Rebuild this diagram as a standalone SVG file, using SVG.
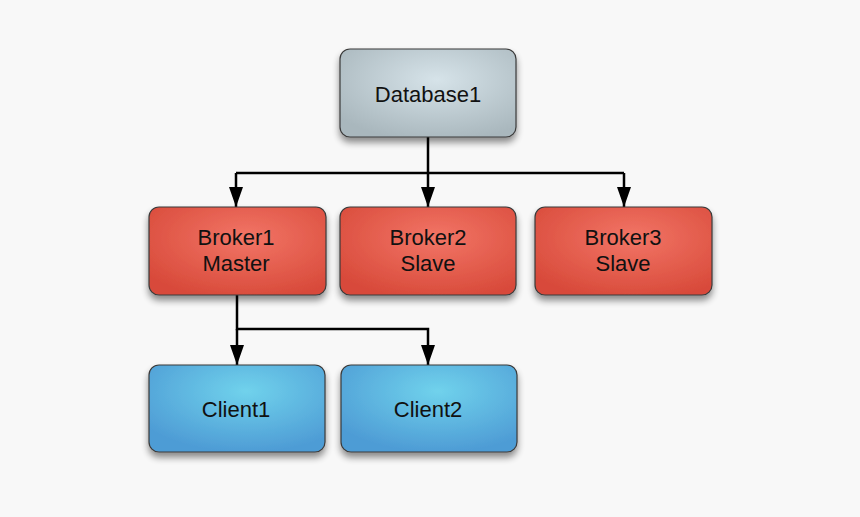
<svg xmlns="http://www.w3.org/2000/svg" width="860" height="517" viewBox="0 0 860 517">
<defs>
<radialGradient id="gDb" cx="0.55" cy="0.35" r="0.7">
<stop offset="0" stop-color="#d6e3e9"/><stop offset="1" stop-color="#a9b7bd"/>
</radialGradient>
<radialGradient id="gBr" cx="0.55" cy="0.35" r="0.7">
<stop offset="0" stop-color="#f27566"/><stop offset="1" stop-color="#d84a3a"/>
</radialGradient>
<radialGradient id="gCl" cx="0.55" cy="0.3" r="0.7">
<stop offset="0" stop-color="#70d2ec"/><stop offset="1" stop-color="#4e9cd5"/>
</radialGradient>
<filter id="sh" x="-20%" y="-20%" width="140%" height="150%">
<feGaussianBlur in="SourceAlpha" stdDeviation="3.5"/>
<feOffset dx="0" dy="5" result="b"/>
<feComponentTransfer><feFuncA type="linear" slope="0.45"/></feComponentTransfer>
<feMerge><feMergeNode/><feMergeNode in="SourceGraphic"/></feMerge>
</filter>
<marker id="arr" markerWidth="20" markerHeight="14" refX="20" refY="7" orient="auto" markerUnits="userSpaceOnUse" viewBox="0 0 20 14">
<path d="M0,0 L20,7 L0,14 Z" fill="#000"/>
</marker>
</defs>
<style>
.box{stroke:#3a3a3a;stroke-width:1.2;filter:url(#sh)}
.t{font-family:"Liberation Sans",Arial,sans-serif;font-size:22px;fill:#111;text-anchor:middle}
.c{fill:none;stroke:#000;stroke-width:2.5}
</style>
<rect width="860" height="517" fill="#f8f8f8"/>
<g id="connectors">
<path class="c" d="M428,137 V173"/>
<path class="c" d="M236,173 H624"/>
<path class="c" d="M236,173 V207" marker-end="url(#arr)"/>
<path class="c" d="M428,173 V207" marker-end="url(#arr)"/>
<path class="c" d="M624,173 V207" marker-end="url(#arr)"/>
<path class="c" d="M237,295 V329 H428 V365" marker-end="url(#arr)"/>
<path class="c" d="M237,329 V365" marker-end="url(#arr)"/>
</g>
<g id="database1">
<rect class="box" x="340" y="49" width="176" height="88" rx="10" fill="url(#gDb)"/>
<text class="t" x="428" y="102">Database1</text>
</g>
<g id="broker1">
<rect class="box" x="149" y="207" width="177" height="88" rx="10" fill="url(#gBr)"/>
<text class="t" x="236" y="245">Broker1</text>
<text class="t" x="236" y="271">Master</text>
</g>
<g id="broker2">
<rect class="box" x="340" y="207" width="176" height="88" rx="10" fill="url(#gBr)"/>
<text class="t" x="428" y="245">Broker2</text>
<text class="t" x="428" y="271">Slave</text>
</g>
<g id="broker3">
<rect class="box" x="535" y="207" width="177" height="88" rx="10" fill="url(#gBr)"/>
<text class="t" x="623" y="245">Broker3</text>
<text class="t" x="623" y="271">Slave</text>
</g>
<g id="client1">
<rect class="box" x="149" y="365" width="176" height="87" rx="10" fill="url(#gCl)"/>
<text class="t" x="236" y="417">Client1</text>
</g>
<g id="client2">
<rect class="box" x="341" y="365" width="176" height="87" rx="10" fill="url(#gCl)"/>
<text class="t" x="428" y="417">Client2</text>
</g>
</svg>
